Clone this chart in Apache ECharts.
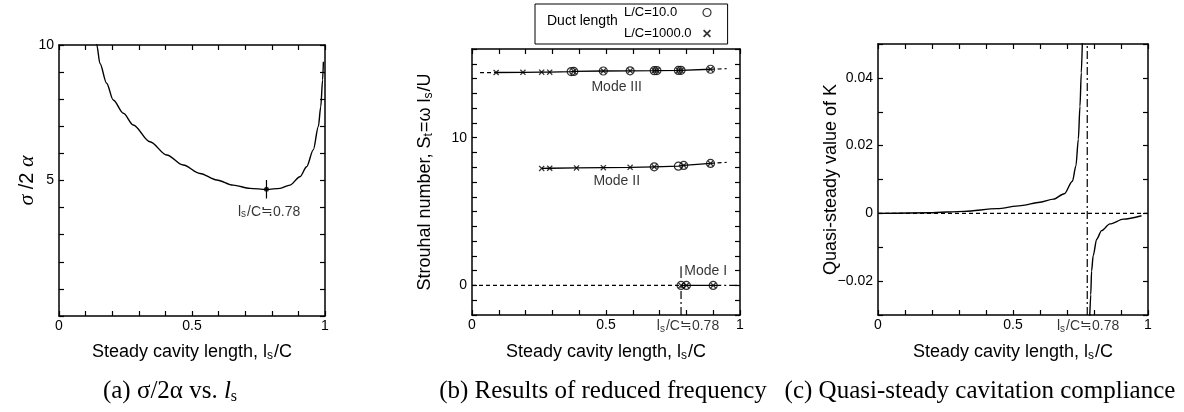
<!DOCTYPE html>
<html><head><meta charset="utf-8">
<script src="https://cdn.jsdelivr.net/npm/echarts@6/dist/echarts.min.js"></script>
<style>html,body{margin:0;padding:0;background:#fff}#c{width:1184px;height:412px}</style>
</head><body><div id="c"></div>
<script>
const SANS = '"Liberation Sans", Arial, Helvetica, sans-serif';
const SERIF = '"Liberation Serif", "Times New Roman", serif';

// ---------- (a) sigma/2alpha vs l_s ----------
const aX = [0.136,0.142,0.154,0.179,0.204,0.242,0.279,0.342,0.405,0.467,0.530,0.593,0.655,0.718,0.780,0.831,0.868,0.906,0.931,0.956,0.975,0.984,0.991,0.994];
const aY = [10.5,10.0,9.32,8.59,7.97,7.48,7.05,6.43,5.94,5.57,5.26,5.02,4.83,4.71,4.67,4.71,4.83,5.14,5.51,6.13,6.99,7.72,8.71,9.38];
const aOpt = [0.78, 4.68];
const aOptBar = [5.02, 4.34];
const aOptLabelAt = [0.79, 3.85];
const aXTickVals = [0, 0.5, 1], aXTickText = ['0', '0.5', '1'];
const aYTickVals = [5, 10], aYTickText = ['5', '10'];

// ---------- (b) reduced frequency ----------
const m3X = [0.09,0.19,0.26,0.29,0.37,0.38,0.49,0.59,0.68,0.69,0.77,0.78,0.89];
const m3Y = [14.41,14.42,14.43,14.43,14.47,14.48,14.51,14.52,14.53,14.54,14.55,14.56,14.63];
const m3K = ['x','x','x','x','o','b','b','b','b','b','b','b','b'];
const m3ExtL = [[0.03,14.40],[0.09,14.41]];
const m3ExtR = [[0.89,14.63],[0.95,14.67]];
const m2X = [0.26,0.29,0.39,0.49,0.59,0.68,0.77,0.79,0.89];
const m2Y = [7.92,7.93,7.95,7.97,7.99,8.03,8.07,8.12,8.26];
const m2K = ['x','x','x','x','x','b','o','b','b'];
const m2ExtR = [[0.89,8.26],[0.95,8.33]];
const m1X = [0.78,0.80,0.90];
const m1Y = [0,0,0];
const m1K = ['b','b','b'];
const m1DashL = [[0,0],[0.78,0]];
const m1DashR = [[0.90,0],[1.0,0]];
const bCrit = 0.78;
const bCritTick = [0.5, 1.3];
const bYRange = [-2, 16];
const bLabels = [
  {text: 'Mode III', at: [0.54, 13.39], pos: 'inside'},
  {text: 'Mode II', at: [0.54, 7.05], pos: 'inside'},
  {text: 'Mode I', at: [0.783, 0.95], pos: 'right'}
];
const bCritLabelAt = [0.806, -2];
const bXTickVals = [0, 0.5, 1], bXTickText = ['0', '0.5', '1'];
const bYTickVals = [0, 10], bYTickText = ['0', '10'];
const legendNames = ['L/C=10.0', 'L/C=1000.0'];

// ---------- (c) quasi-steady compliance ----------
const cX1 = [0.00,0.19,0.32,0.44,0.53,0.60,0.65,0.69,0.72,0.733,0.742,0.748,0.753,0.757];
const cY1 = [0,0.0002,0.0006,0.0014,0.0023,0.0033,0.0042,0.0058,0.0095,0.014,0.0219,0.0316,0.0415,0.051];
const cX2 = [0.784,0.788,0.791,0.797,0.81,0.828,0.859,0.909,0.976];
const cY2 = [-0.031,-0.024,-0.017,-0.0125,-0.0076,-0.0051,-0.0031,-0.0017,-0.0007];
const cCrit = 0.775;
const cYRange = [-0.03, 0.05];
const cCritLabelAt = [0.778, -0.03];
const cXTickVals = [0, 0.5, 1], cXTickText = ['0', '0.5', '1'];
const cYTickVals = [-0.02, 0, 0.02, 0.04], cYTickText = ['\u22120.02', '0', '0.02', '0.04'];

// ---------- helpers ----------
const zip = (xs, ys) => xs.map((x, i) => [x, ys[i]]);
const fmt = (vals, texts) => v => {
  for (let i = 0; i < vals.length; i++) if (Math.abs(vals[i] - v) < 1e-9) return texts[i];
  return '';
};
const subRich = (fs) => ({
  s: {fontSize: Math.round(fs * 0.68), fontFamily: SANS, color: '#000', padding: [Math.round(fs * 0.45), 1, 0, 0]},
  g: {fontSize: Math.round(fs * 1.1), fontFamily: SERIF, fontStyle: 'italic', color: '#000'}
});
const CROSS = 'path://M0,1.5L1.5,0L5,3.5L8.5,0L10,1.5L6.5,5L10,8.5L8.5,10L5,6.5L1.5,10L0,8.5L3.5,5Z';
const CIRCLE_STYLE = {color: 'rgba(0,0,0,0)', borderColor: '#000', borderWidth: 1.2};

function axisPair(gridIndex, range, interval, vals, texts, isX, nameOpt) {
  const base = {
    type: 'value', gridIndex, min: range[0], max: range[1], interval,
    splitLine: {show: false},
    axisLine: {show: true, onZero: false, lineStyle: {color: '#000', width: 1.5}},
    axisTick: {show: true, inside: true, length: 5, lineStyle: {color: '#000', width: 1.2}},
    axisPointer: {show: false}
  };
  const main = Object.assign({}, base, {
    position: isX ? 'bottom' : 'left',
    axisLabel: {show: true, color: '#000', fontFamily: SANS, fontSize: 14, margin: isX ? 3 : 5,
      showMinLabel: true, showMaxLabel: true, formatter: fmt(vals, texts)}
  }, nameOpt || {});
  const mirror = Object.assign({}, base, {position: isX ? 'top' : 'right', axisLabel: {show: false}});
  return [main, mirror];
}
const nameX = (text, gap) => ({
  name: text, nameLocation: 'middle', nameGap: gap, nameMoveOverlap: false,
  nameTextStyle: {color: '#000', fontFamily: SANS, fontSize: 18, rich: subRich(18)}
});
const nameY = (text, gap, fs) => ({
  name: text, nameLocation: 'middle', nameGap: gap, nameMoveOverlap: false,
  nameTextStyle: {color: '#000', fontFamily: SANS, fontSize: fs || 18, rich: subRich(fs || 18)}
});
const L = (ai, data, extra) => Object.assign({
  type: 'line', xAxisIndex: ai, yAxisIndex: ai, data, showSymbol: false, symbol: 'none',
  lineStyle: {color: '#000', width: 1.3}, silent: true, z: 2
}, extra || {});
const T = (ai, pt, text, pos, fs) => ({
  type: 'scatter', xAxisIndex: ai, yAxisIndex: ai, data: [pt], symbolSize: 1, clip: false,
  itemStyle: {color: 'rgba(0,0,0,0)'}, silent: true, z: 4,
  label: {show: true, position: pos, distance: pos === 'right' ? 2 : 3, formatter: text, color: '#000',
    textBorderWidth: 0, textShadowBlur: 0, fontFamily: SANS, fontSize: fs, rich: subRich(fs)}
});

const dash = [4, 3];
const dashDot = [8, 3, 2, 3];

// marker sets for (b)
const circPts = [], crossPts = [];
[[m3X, m3Y, m3K], [m2X, m2Y, m2K], [m1X, m1Y, m1K]].forEach(([xs, ys, ks]) => {
  xs.forEach((x, i) => {
    if (ks[i] === 'o' || ks[i] === 'b') circPts.push([x, ys[i]]);
    if (ks[i] === 'x' || ks[i] === 'b') crossPts.push([x, ys[i]]);
  });
});

const [ax0, ax1] = axisPair(0, [0, 1], 0.1, aXTickVals, aXTickText, true, nameX('Steady cavity length, l{s|s}/C', 26));
const [ay0, ay1] = axisPair(0, [0, 10], 1, aYTickVals, aYTickText, false, nameY('{g|\u03c3} /2 {g|\u03b1}', 21, 20));
const [bx0, bx1] = axisPair(1, [0, 1], 0.1, bXTickVals, bXTickText, true, nameX('Steady cavity length, l{s|s}/C', 27));
const [by0, by1] = axisPair(1, bYRange, 1, bYTickVals, bYTickText, false, nameY('Strouhal number, S{s|t}=\u03c9 l{s|s}/U', 37));
const [cx0, cx1] = axisPair(2, [0, 1], 0.1, cXTickVals, cXTickText, true, nameX('Steady cavity length, l{s|s}/C', 27));
const [cy0, cy1] = axisPair(2, cYRange, 0.01, cYTickVals, cYTickText, false, nameY('Quasi-steady value of K', 38));

const critText = 'l{s|s}/C\u22520.78';

const option = {
  animation: false,
  backgroundColor: '#fff',
  grid: [
    {left: 59, top: 45, width: 266, height: 271, containLabel: false, outerBoundsMode: 'none'},
    {left: 472, top: 49, width: 268, height: 266, containLabel: false, outerBoundsMode: 'none'},
    {left: 878, top: 44, width: 270, height: 271, containLabel: false, outerBoundsMode: 'none'}
  ],
  xAxis: [ax0, ax1, bx0, bx1, cx0, cx1],
  yAxis: [ay0, ay1, by0, by1, cy0, cy1],
  legend: {
    left: 535, top: 4, orient: 'vertical', align: 'right',
    padding: [1, 16, 3, 89], itemGap: 6, itemWidth: 8, itemHeight: 8,
    borderColor: '#000', borderWidth: 1, selectedMode: false,
    formatter: name => '{t|' + name + '}',
    textStyle: {color: '#000', fontFamily: SANS, fontSize: 13, lineHeight: 15,
      rich: {t: {width: 74, align: 'left', fontSize: 13, fontFamily: SANS, color: '#000'}}},
    data: [
      {name: legendNames[0], icon: 'circle', itemStyle: CIRCLE_STYLE},
      {name: legendNames[1], icon: CROSS, itemStyle: {color: '#000', borderWidth: 0}}
    ]
  },
  graphic: [
    {type: 'text', x: 547, y: 21, silent: true,
      style: {text: 'Duct length', fill: '#000', fontSize: 14, fontFamily: SANS, align: 'left', verticalAlign: 'middle'}},
    {type: 'text', x: 170, y: 391, silent: true,
      style: {text: '(a) \u03c3/2\u03b1 vs. {i|l}{s|s}', fill: '#000', fontSize: 25, fontFamily: SERIF, align: 'center', verticalAlign: 'middle',
        rich: {i: {fontSize: 25, fontFamily: SERIF, fontStyle: 'italic', fill: '#000'}, s: {fontSize: 16, fontFamily: SERIF, fill: '#000', padding: [11, 0, 0, 0]}}}},
    {type: 'text', x: 603, y: 391, silent: true,
      style: {text: '(b) Results of reduced frequency', fill: '#000', fontSize: 25, fontFamily: SERIF, align: 'center', verticalAlign: 'middle'}},
    {type: 'text', x: 980, y: 391, silent: true,
      style: {text: '(c) Quasi-steady cavitation compliance', fill: '#000', fontSize: 25, fontFamily: SERIF, align: 'center', verticalAlign: 'middle'}}
  ],
  series: [
    // (a)
    L(0, zip(aX, aY), {smooth: 0.3, smoothMonotone: 'x', lineStyle: {color: '#000', width: 1.4}}),
    L(0, [[aOpt[0], aOptBar[0]], [aOpt[0], aOptBar[1]]], {lineStyle: {color: '#000', width: 1.2}}),
    {type: 'scatter', xAxisIndex: 0, yAxisIndex: 0, data: [aOpt], symbolSize: 5, itemStyle: {color: '#000'}, silent: true, z: 3},
    T(0, aOptLabelAt, critText, 'inside', 14),
    // (b) lines
    L(2, zip(m3X, m3Y)),
    L(2, m3ExtL, {lineStyle: {color: '#000', width: 1.2, type: dash}}),
    L(2, m3ExtR, {lineStyle: {color: '#000', width: 1.2, type: dash}}),
    L(2, zip(m2X, m2Y)),
    L(2, m2ExtR, {lineStyle: {color: '#000', width: 1.2, type: dash}}),
    L(2, zip(m1X, m1Y)),
    L(2, m1DashL, {lineStyle: {color: '#000', width: 1.2, type: dash}}),
    L(2, m1DashR, {lineStyle: {color: '#000', width: 1.2, type: dashDot}}),
    L(2, [[bCrit, bYRange[0]], [bCrit, 0]], {lineStyle: {color: '#000', width: 1.2, type: dashDot}}),
    L(2, [[bCrit, bCritTick[0]], [bCrit, bCritTick[1]]], {lineStyle: {color: '#000', width: 1.1}}),
    // (b) markers
    {type: 'scatter', name: legendNames[0], xAxisIndex: 2, yAxisIndex: 2, data: circPts, symbol: 'circle', symbolSize: 8,
      itemStyle: CIRCLE_STYLE, silent: true, z: 3},
    {type: 'scatter', name: legendNames[1], xAxisIndex: 2, yAxisIndex: 2, data: crossPts, symbol: CROSS, symbolSize: 6,
      itemStyle: {color: '#000'}, silent: true, z: 3},
    ...bLabels.map(l => T(2, l.at, l.text, l.pos, 14)),
    T(2, bCritLabelAt, critText, 'bottom', 14),
    // (c)
    L(4, [[0, 0], [1, 0]], {lineStyle: {color: '#000', width: 1.2, type: dash}}),
    L(4, [[cCrit, cYRange[0]], [cCrit, cYRange[1]]], {lineStyle: {color: '#000', width: 1.2, type: dashDot}}),
    L(4, zip(cX1, cY1), {smooth: 0.3, smoothMonotone: 'x', lineStyle: {color: '#000', width: 1.4}}),
    L(4, zip(cX2, cY2), {smooth: 0.3, smoothMonotone: 'x', lineStyle: {color: '#000', width: 1.4}}),
    T(4, cCritLabelAt, critText, 'bottom', 14)
  ]
};
const chart = echarts.init(document.getElementById('c'), null, {renderer: 'canvas'});
chart.setOption(option);
</script></body></html>
